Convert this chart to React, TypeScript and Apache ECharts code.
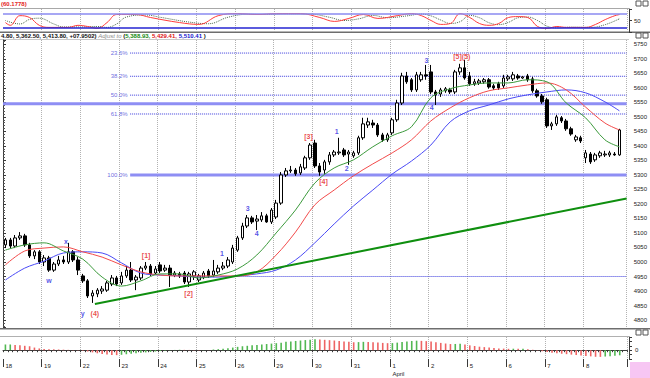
import React, { useEffect, useRef } from "react";
import * as echarts from "echarts";

// ---------- data ----------
const dayLabels = ["18", "19", "22", "23", "24", "25", "26", "29", "30", "31", "1", "2", "5", "6", "7", "8"];
const monthMarks: Record<string, string> = { "10": "April" }; // day index -> month name
const BARS_PER_DAY = 8;

// [open, close, low, high]
const candles: number[][] = [
  [5059, 5076, 5048, 5083], [5076, 5055, 5048, 5083], [5055, 5083, 5048, 5093], [5083, 5090, 5076, 5103],
  [5090, 5059, 5052, 5097], [5059, 5021, 5014, 5066], [5021, 5035, 5010, 5041], [5035, 5000, 4993, 5041],
  [5000, 5014, 4986, 5024], [5014, 4972, 4966, 5021], [4972, 4993, 4966, 5000], [4993, 5007, 4986, 5021],
  [5007, 5000, 4993, 5021], [5000, 5035, 4993, 5066], [5035, 5007, 5000, 5041], [5007, 4972, 4955, 5017],
  [4952, 4935, 4928, 4959], [4935, 4883, 4876, 4941], [4883, 4893, 4859, 4903], [4890, 4903, 4879, 4910],
  [4900, 4907, 4890, 4917], [4903, 4928, 4897, 4935], [4924, 4945, 4917, 4955], [4945, 4924, 4917, 4952],
  [4928, 4952, 4921, 4966], [4952, 4972, 4945, 4986], [4972, 4938, 4931, 5000], [4938, 4948, 4903, 4955],
  [4945, 4979, 4938, 4986], [4979, 4986, 4972, 5000], [4986, 4959, 4952, 4993], [4962, 4976, 4955, 4986],
  [4990, 4969, 4962, 5000], [4972, 4979, 4966, 4990], [4979, 4955, 4914, 4990], [4955, 4962, 4948, 4969],
  [4959, 4952, 4945, 4966], [4962, 4931, 4924, 4969], [4931, 4959, 4914, 4966], [4952, 4966, 4938, 4972],
  [4938, 4952, 4931, 4959], [4948, 4962, 4941, 4969], [4969, 4952, 4945, 4976], [4955, 4969, 4948, 5007],
  [4966, 4979, 4959, 4990], [4979, 4986, 4972, 5000], [4986, 5007, 4979, 5017], [5000, 5048, 4993, 5059],
  [5041, 5083, 5035, 5090], [5083, 5124, 5076, 5135], [5124, 5152, 5117, 5162], [5152, 5138, 5131, 5159],
  [5141, 5148, 5110, 5162], [5145, 5159, 5138, 5172], [5159, 5138, 5135, 5166], [5138, 5179, 5131, 5186],
  [5155, 5203, 5148, 5214], [5203, 5300, 5197, 5310], [5300, 5314, 5293, 5324], [5314, 5317, 5307, 5331],
  [5317, 5304, 5297, 5324], [5307, 5328, 5300, 5338], [5324, 5359, 5317, 5366], [5359, 5403, 5352, 5410],
  [5410, 5331, 5324, 5421], [5331, 5310, 5297, 5341], [5317, 5345, 5304, 5352], [5345, 5369, 5335, 5379],
  [5369, 5379, 5362, 5386], [5376, 5379, 5369, 5428], [5386, 5369, 5362, 5393], [5372, 5379, 5335, 5386],
  [5366, 5376, 5359, 5383], [5376, 5428, 5369, 5435], [5428, 5476, 5421, 5497], [5472, 5483, 5462, 5497],
  [5479, 5472, 5462, 5490], [5472, 5438, 5431, 5479], [5438, 5421, 5414, 5445], [5421, 5438, 5414, 5445],
  [5445, 5490, 5438, 5497], [5490, 5548, 5483, 5559], [5548, 5641, 5541, 5652], [5641, 5621, 5614, 5655],
  [5628, 5593, 5586, 5634], [5593, 5645, 5586, 5655], [5628, 5645, 5621, 5655], [5645, 5641, 5628, 5679],
  [5655, 5586, 5579, 5679], [5586, 5576, 5541, 5593], [5579, 5593, 5569, 5600], [5590, 5597, 5583, 5603],
  [5593, 5586, 5579, 5600], [5586, 5655, 5579, 5662], [5655, 5669, 5645, 5683], [5669, 5634, 5628, 5697],
  [5641, 5614, 5607, 5655], [5614, 5621, 5607, 5631], [5617, 5624, 5610, 5631], [5621, 5628, 5614, 5634],
  [5628, 5603, 5597, 5634], [5607, 5600, 5593, 5614], [5614, 5600, 5593, 5621], [5607, 5634, 5600, 5645],
  [5631, 5638, 5624, 5645], [5631, 5645, 5624, 5655], [5641, 5634, 5628, 5648], [5634, 5638, 5631, 5641],
  [5641, 5628, 5621, 5648], [5631, 5590, 5583, 5638], [5590, 5572, 5566, 5597], [5572, 5552, 5545, 5579],
  [5559, 5469, 5462, 5566], [5469, 5476, 5455, 5483], [5476, 5500, 5469, 5507], [5497, 5486, 5479, 5503],
  [5486, 5459, 5452, 5493], [5459, 5441, 5435, 5466], [5421, 5431, 5414, 5438], [5428, 5417, 5410, 5435],
  [5359, 5376, 5341, 5386], [5372, 5345, 5338, 5379], [5352, 5369, 5345, 5376], [5366, 5376, 5359, 5383],
  [5369, 5372, 5362, 5383], [5369, 5376, 5362, 5383], [5372, 5369, 5366, 5379], [5369, 5455, 5366, 5459],
];

// moving averages read at these bar indices
const maIndex = [0, 4, 8, 12, 16, 20, 24, 28, 32, 36, 40, 44, 48, 52, 56, 60, 64, 68, 72, 76, 80, 84, 88, 92, 96, 100, 104, 108, 112, 116, 120, 124, 127];
const maFast = [5041, 5059, 5066, 5038, 5010, 4948, 4917, 4935, 4959, 4959, 4945, 4955, 4976, 5024, 5100, 5179, 5272, 5324, 5352, 5397, 5435, 5466, 5566, 5597, 5610, 5617, 5617, 5628, 5621, 5548, 5497, 5421, 5397];
const maMid = [4990, 5038, 5048, 5052, 5035, 5017, 4990, 4966, 4955, 4952, 4952, 4952, 4952, 4966, 5024, 5103, 5197, 5248, 5297, 5338, 5376, 5421, 5486, 5531, 5566, 5590, 5600, 5610, 5617, 5593, 5534, 5479, 5455];
const maSlow = [4938, 4979, 5003, 5031, 5035, 5031, 4997, 4962, 4955, 4952, 4948, 4948, 4952, 4959, 4972, 5007, 5066, 5131, 5193, 5248, 5303, 5348, 5403, 5483, 5521, 5541, 5562, 5576, 5586, 5593, 5583, 5552, 5521];

// stochastic oscillator (top panel)
const oscKIndex = [0, 1, 3, 5, 7, 9, 13, 15, 17, 19, 21, 23, 27, 30, 36, 40, 44, 48, 52, 56, 61, 65, 68, 71, 74, 77, 81, 84, 86, 88, 90, 92, 94, 96, 98, 100, 102, 104, 106, 108, 110, 112, 114, 116, 120, 122, 124, 126, 127];
const oscK = [41, 29, 71, 63, 29, 20, 20, 29, 24, 16, 41, 76, 76, 63, 41, 33, 71, 80, 76, 80, 80, 63, 46, 59, 76, 59, 71, 80, 71, 50, 33, 37, 80, 63, 37, 29, 37, 63, 67, 63, 24, 16, 24, 20, 20, 33, 54, 71, 76];
const oscDIndex = [0, 3, 5, 7, 10, 12, 16, 19, 21, 23, 25, 29, 32, 38, 42, 46, 50, 54, 58, 63, 67, 70, 73, 76, 79, 83, 86, 88, 90, 92, 94, 96, 98, 100, 102, 104, 106, 108, 110, 112, 114, 117, 121, 124, 127];
const oscD = [50, 35, 55, 60, 35, 22, 22, 24, 20, 35, 65, 74, 64, 43, 36, 64, 77, 76, 79, 78, 64, 50, 57, 72, 62, 70, 78, 70, 52, 37, 45, 72, 62, 40, 32, 42, 62, 65, 50, 25, 18, 21, 20, 32, 58];
const oscLevels = [80, 20];

// histogram (bottom panel)
const histogram = [
  6.5, 6.5, 6, 5.5, 5, 4.5, 3, 2,
  1.5, 1.2, 1, 0.8, 0.6, 0.4, 0.2, 0.1,
  -0.5, -1.5, -2.5, -3.5, -4.3, -5, -5.5, -5.6,
  -5.2, -4.6, -4, -3.5, -3, -2.5, -2, -1.5,
  -1, -0.6, -0.3, 0.3, 0.5, 0.4, 0.3, 0.2,
  0.1, 0.2, 0.1, 0.8, 1.2, 1.6, 2.2, 3,
  3.8, 4.5, 5, 5.5, 6, 6.5, 7, 7.5,
  8, 8.5, 9.5, 10, 10.5, 11, 11.5, 12,
  12.5, 12.2, 11.8, 11.4, 11, 10.5, 10, 9.5,
  9, 9.2, 9.5, 9.3, 9, 8.7, 8.3, 8,
  8.1, 8.6, 9.3, 10, 10.5, 10.8, 10.6, 10.3,
  9.8, 9, 8.3, 7.6, 7, 7.1, 7.2, 6.5,
  5.5, 4.8, 4, 3.5, 3, 2.5, 2, 1.8,
  1.6, 1.7, 1.6, 1.7, 1.2, 0.5, -0.3, -1.2,
  -2, -3, -3.5, -4, -4.5, -5, -5.5, -6,
  -6.5, -7, -7.5, -7.6, -7.2, -6.8, -6.3, -5.8,
];

// Fibonacci retracement (drawn from bar 26.3 to the right edge)
const fibLabels = ["23.6%", "38.2%", "50.0%", "61.8%", "100.0%"];
const fibValues = [5720, 5640, 5575, 5510, 5300];
const fibAnchorBar = 26.3;
const resistanceLevel = 5545;
const supportLevel = 4950;
const supportStartBar = 45;
const trendLine = [[19.0, 4855], [129, 5219]];

// Elliott wave labels: [text, bar, price, colour key]
const waveLabels: [string, number, number, string][] = [
  ["w", 9.5, 4935, "b"], ["x", 13.0, 5069, "b"], ["y", 16.5, 4824, "b"], ["(4)", 19.0, 4824, "r"],
  ["[1]", 29.6, 5021, "r"], ["[2]", 38.4, 4890, "r"],
  ["1", 45.3, 5031, "b"], ["3", 50.6, 5183, "b"], ["4", 52.5, 5097, "b"],
  ["[3]", 63.2, 5434, "r"], ["[4]", 66.3, 5276, "r"],
  ["1", 69.0, 5448, "b"], ["2", 71.1, 5321, "b"],
  ["3", 87.6, 5693, "b"], ["4", 88.7, 5531, "b"], ["[5](5)", 94.9, 5707, "r"],
];

// ---------- styling ----------
const FONT = "Liberation Sans";
const C_GRID = "#b2b2b2";
const C_AXIS = "#3a3a3a";
const C_BLUE_TXT = "#2a2ae0";
const C_RED_TXT = "#e41c1c";

export default function App() {
  const ref = useRef<HTMLDivElement>(null);

  useEffect(() => {
    const chart = echarts.init(ref.current!, null, { renderer: "svg" });
    const nCats = candles.length + 1;
    const cats = Array.from({ length: nCats }, (_, i) => String(i));
    const isDayStart = (i: number) => i % BARS_PER_DAY === 0 && i < candles.length;
    const isInnerDay = (i: number) => i > 0 && i % BARS_PER_DAY === 0 && i < candles.length;
    const zip = (a: number[], b: number[]) => a.map((x, i) => [x, b[i]]);

    const gridSplit = { show: true, interval: isInnerDay, lineStyle: { color: C_GRID, type: "dotted" as const, width: 1 } };
    const hiddenCat = (gridIndex: number) => ({
      type: "category", gridIndex, data: cats, boundaryGap: true,
      axisLine: { show: false }, axisTick: { show: false }, axisLabel: { show: false },
      splitLine: gridSplit,
    });

    const overlayLine = (data: number[][], color: string, width: number, type: string, z = 1) => ({
      type: "line", xAxisIndex: 3, yAxisIndex: 1, data, symbol: "none", silent: true, z,
      lineStyle: { color, width, type }, animation: false,
    });

    const fibSeries = fibValues.map((v, i) =>
      overlayLine([[fibAnchorBar, v], [nCats, v]], i === fibValues.length - 1 ? "#8e8ef4" : "#3838dc",
        i === fibValues.length - 1 ? 3 : 1, i === fibValues.length - 1 ? "solid" : "dotted"));

    const option: any = {
      animation: false,
      backgroundColor: "#ffffff",
      textStyle: { fontFamily: FONT },
      grid: [
        { left: 3, right: 23, top: 9, height: 23 },
        { left: 3, right: 23, top: 40, height: 287 },
        { left: 3, right: 23, top: 337, height: 25 },
      ],
      xAxis: [
        hiddenCat(0),
        hiddenCat(1),
        {
          type: "category", gridIndex: 2, data: cats, boundaryGap: true,
          axisLine: { show: true, lineStyle: { color: C_AXIS, width: 1 } },
          axisTick: { show: true, interval: 0, length: 2, lineStyle: { color: C_AXIS } },
          axisLabel: {
            show: true, interval: isDayStart, align: "left", fontSize: 6, color: "#222",
            margin: 3, lineHeight: 8, fontFamily: FONT,
            formatter: (_v: string, idx: number) => {
              const d = Math.floor(idx / BARS_PER_DAY);
              const m = monthMarks[String(d)];
              return m ? dayLabels[d] + "\n" + m : dayLabels[d];
            },
          },
          splitLine: gridSplit,
        },
        { type: "value", gridIndex: 1, min: 0, max: nCats, show: false },
        {
          type: "category", gridIndex: 2, data: cats, boundaryGap: true, position: "bottom",
          axisLine: { show: false },
          axisTick: { show: true, interval: isDayStart, length: 8, lineStyle: { color: C_AXIS } },
          axisLabel: { show: false }, splitLine: { show: false },
        },
      ],
      yAxis: [
        {
          type: "value", gridIndex: 0, min: 0, max: 100, interval: 50, position: "right", offset: 2,
          axisLine: { show: true, lineStyle: { color: C_AXIS } },
          axisTick: { show: true, length: 3, lineStyle: { color: C_AXIS } },
          axisLabel: { fontSize: 6, color: "#222", margin: 5, formatter: (v: number) => (v === 50 ? "50" : "") },
          splitLine: { show: false },
        },
        {
          type: "value", gridIndex: 1, min: 4776, max: 5765, splitNumber: 20, position: "right", offset: 2,
          axisLine: { show: true, lineStyle: { color: C_AXIS } },
          axisTick: { show: true, length: 3, lineStyle: { color: C_AXIS } },
          minorTick: { show: true, splitNumber: 5, length: 2, lineStyle: { color: "#555" } },
          axisLabel: {
            fontSize: 6, color: "#222", margin: 5, showMinLabel: false, showMaxLabel: false,
            formatter: (v: number) => String(Math.round(v)),
          },
          splitLine: { show: false },
        },
        {
          type: "value", gridIndex: 2, min: -10, max: 15, interval: 5, position: "right", offset: 2,
          axisLine: { show: true, lineStyle: { color: C_AXIS } },
          axisTick: { show: true, length: 3, lineStyle: { color: C_AXIS } },
          axisLabel: { fontSize: 6, color: "#222", margin: 6, formatter: (v: number) => (v === 0 ? "0" : "") },
          splitLine: { show: false },
        },
      ],
      series: [
        // top oscillator
        {
          type: "line", xAxisIndex: 0, yAxisIndex: 0, data: zip(oscKIndex, oscK), smooth: 0.4,
          symbol: "none", lineStyle: { color: "#ff3c3c", width: 1 }, z: 3,
          markLine: {
            silent: true, symbol: "none", label: { show: false },
            data: oscLevels.map((v, i) => ({ yAxis: v, lineStyle: { color: i === 0 ? "#8a8af0" : "#2424d2", width: 1.5, type: "solid" } })),
          },
        },
        {
          type: "line", xAxisIndex: 0, yAxisIndex: 0, data: zip(oscDIndex, oscD), smooth: 0.4,
          symbol: "none", lineStyle: { color: "#4d6a4d", width: 1, type: "dotted" }, z: 2,
        },
        // overlays on price panel
        overlayLine([[0, resistanceLevel], [nCats, resistanceLevel]], "#8e8ef4", 3, "solid"),
        overlayLine([[supportStartBar, supportLevel], [nCats, supportLevel]], "#3838dc", 1, "dotted"),
        ...fibSeries,
        {
          type: "candlestick", xAxisIndex: 1, yAxisIndex: 1, data: candles, barWidth: 3, z: 2,
          itemStyle: { color: "#ffffff", color0: "#000000", borderColor: "#000000", borderColor0: "#000000", borderWidth: 1 },
        },
        {
          type: "line", xAxisIndex: 1, yAxisIndex: 1, data: zip(maIndex, maSlow), smooth: 0.35,
          symbol: "none", lineStyle: { color: "#4a4af5", width: 1 }, z: 3,
        },
        {
          type: "line", xAxisIndex: 1, yAxisIndex: 1, data: zip(maIndex, maMid), smooth: 0.35,
          symbol: "none", lineStyle: { color: "#f24a4a", width: 1 }, z: 3,
        },
        {
          type: "line", xAxisIndex: 1, yAxisIndex: 1, data: zip(maIndex, maFast), smooth: 0.35,
          symbol: "none", lineStyle: { color: "#3c9a3c", width: 1 }, z: 3,
        },
        overlayLine(trendLine, "#0f8f0f", 2, "solid", 4),
        {
          type: "scatter", xAxisIndex: 3, yAxisIndex: 1, symbolSize: 1, silent: true, z: 5,
          itemStyle: { color: "rgba(0,0,0,0)" },
          data: fibValues.map((v, i) => ({ value: [fibAnchorBar, v], name: fibLabels[i] })),
          label: { show: true, position: "left", distance: 2, formatter: "{b}", fontSize: 6, color: "#4444d6", fontFamily: FONT },
        },
        {
          type: "scatter", xAxisIndex: 3, yAxisIndex: 1, symbolSize: 1, silent: true, z: 5,
          itemStyle: { color: "rgba(0,0,0,0)" },
          data: waveLabels.map(([t, x, y, c]) => ({
            value: [x, y], name: t,
            label: { color: c === "r" ? C_RED_TXT : C_BLUE_TXT },
          })),
          label: { show: true, position: "inside", formatter: "{b}", fontSize: 7, fontWeight: "bold", fontFamily: FONT },
        },
        // histogram
        {
          type: "bar", xAxisIndex: 2, yAxisIndex: 2, barWidth: 1.6, z: 2,
          data: histogram.map((v, i) => ({
            value: v,
            itemStyle: { color: i === 0 || v >= histogram[i - 1] ? "#52b852" : "#ee6464" },
          })),
        },
      ],
      graphic: [
        { type: "line", silent: true, shape: { x1: 0, y1: 8.5, x2: 629, y2: 8.5 }, style: { stroke: "#a8a8a8", lineWidth: 1 } },
        { type: "rect", silent: true, shape: { x: 0, y: 31.5, width: 650, height: 1.5 }, style: { fill: "#6e6e6e" } },
        { type: "line", silent: true, shape: { x1: 0, y1: 39.5, x2: 629, y2: 39.5 }, style: { stroke: "#c8c8c8", lineWidth: 1 } },
        { type: "rect", silent: true, shape: { x: 0, y: 328, width: 650, height: 1.5 }, style: { fill: "#6e6e6e" } },
        { type: "line", silent: true, shape: { x1: 0, y1: 336.5, x2: 629, y2: 336.5 }, style: { stroke: "#b0b0b0", lineWidth: 1 } },
        {
          type: "text", silent: true, x: 1, y: 0.5,
          style: { text: "(60.1778)", fill: C_RED_TXT, fontSize: 6, fontWeight: "bold", fontFamily: FONT, verticalAlign: "top" },
        },
        {
          type: "text", silent: true, x: 1, y: 33,
          style: {
            text: "{k|4.80, 5,362.50, 5,413.80, +07.9502)} {i|Adjust to} {k|(}{g|5,388.93,} {r|5,429.41,} {b|5,510.41} {k|)}",
            fontSize: 6, fontFamily: FONT, verticalAlign: "top",
            rich: {
              k: { fill: "#111111", fontWeight: "bold", fontSize: 6, fontFamily: FONT },
              i: { fill: "#8a8a8a", fontStyle: "italic", fontSize: 6, fontFamily: FONT },
              g: { fill: "#138a13", fontWeight: "bold", fontSize: 6, fontFamily: FONT },
              r: { fill: "#dd1414", fontWeight: "bold", fontSize: 6, fontFamily: FONT },
              b: { fill: "#1414cc", fontWeight: "bold", fontSize: 6, fontFamily: FONT },
            },
          },
        },
        { type: "rect", silent: true, shape: { x: 636, y: 1, width: 5, height: 5 }, style: { fill: "#fff", stroke: "#555", lineWidth: 1 } },
        { type: "rect", silent: true, shape: { x: 643, y: 1, width: 5, height: 5 }, style: { fill: "#fff", stroke: "#555", lineWidth: 1 } },
        { type: "rect", silent: true, shape: { x: 636, y: 33, width: 5, height: 5 }, style: { fill: "#fff", stroke: "#555", lineWidth: 1 } },
        { type: "rect", silent: true, shape: { x: 643, y: 33, width: 5, height: 5 }, style: { fill: "#fff", stroke: "#555", lineWidth: 1 } },
        { type: "rect", silent: true, shape: { x: 636, y: 330, width: 5, height: 5 }, style: { fill: "#fff", stroke: "#555", lineWidth: 1 } },
        { type: "rect", silent: true, shape: { x: 643, y: 330, width: 5, height: 5 }, style: { fill: "#fff", stroke: "#555", lineWidth: 1 } },
        { type: "rect", silent: true, shape: { x: 630, y: 362, width: 20, height: 16 }, style: { fill: "#f7c6f3" } },
      ],
    };

    chart.setOption(option);
    return () => chart.dispose();
  }, []);

  return <div ref={ref} style={{ position: "absolute", left: 0, top: 0, width: 650, height: 378 }} />;
}
